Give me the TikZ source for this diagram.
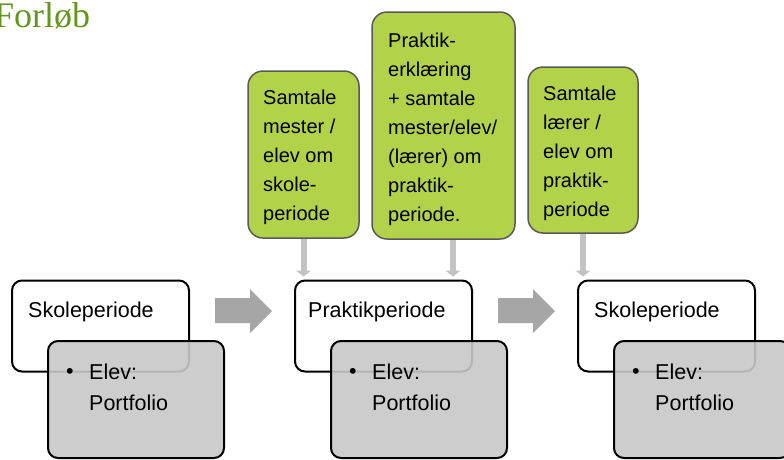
\documentclass[tikz,border=0pt]{standalone}
\usepackage{fontspec}
\setmainfont{Liberation Sans}
\newfontfamily\titlefont{Liberation Serif}
\usetikzlibrary{arrows.meta,calc}
\definecolor{titlegreen}{RGB}{100,150,30}
\definecolor{boxgreen}{RGB}{178,210,74}
\definecolor{boxgray}{RGB}{200,200,200}
\definecolor{arrowgray}{RGB}{166,166,166}
\definecolor{stubgray}{RGB}{195,195,195}
\begin{document}
\begin{tikzpicture}[x=1pt,y=-1pt,
  periodbox/.style={draw=black,line width=2pt,rounded corners=10pt,fill=white,minimum width=177pt,minimum height=91pt,inner sep=0pt},
  notebox/.style={draw=black,line width=2pt,rounded corners=10pt,fill=boxgray,fill opacity=0.9,draw opacity=1,minimum width=176pt,minimum height=117pt,inner sep=0pt},
  greenbox/.style={draw=black!65,line width=1.5pt,rounded corners=15pt,fill=boxgreen,inner sep=0pt},
  greentext/.style={anchor=north west,align=left,inner sep=0pt,font=\fontsize{20}{29}\selectfont},
  periodtext/.style={anchor=base west,inner sep=0pt,font=\fontsize{21.5}{26}\selectfont},
  notetext/.style={anchor=north west,align=left,inner sep=0pt,font=\fontsize{21.5}{31}\selectfont},
  bullettext/.style={anchor=base,inner sep=0pt,font=\fontsize{21.5}{26}\selectfont},
  stub/.style={draw=stubgray,line width=6pt,-{Triangle[width=15pt,length=6pt]},shorten >=3pt},
  bigarrow/.style={fill=arrowgray}
]
\useasboundingbox (0,0) rectangle (784,459);

% title
\node[anchor=base west,inner sep=0pt,font=\titlefont\fontsize{36}{40}\selectfont,text=titlegreen] (title) at (-6,27) {Forløb};

% green boxes
\node[greenbox,minimum width=111pt,minimum height=167pt] (g1) at (303.5,154.5) {};
\node[greenbox,minimum width=143pt,minimum height=227pt] (g2) at (443.5,125.5) {};
\node[greenbox,minimum width=110pt,minimum height=166pt] (g3) at (583,150) {};

% period boxes
\node[periodbox] (w1) at (100.5,326) {};
\node[periodbox] (w2) at (383.5,326) {};
\node[periodbox] (w3) at (666.5,326) {};

% note boxes
\node[notebox] (n1) at (136,399.5) {};
\node[notebox] (n2) at (419,399.5) {};
\node[notebox] (n3) at (702,399.5) {};

% small arrows
\coordinate (s2) at (453,0);
\draw[stub] (g1.south) -- (g1.south |- w2.north);
\draw[stub] (g2.south -| s2) -- (s2 |- w2.north);
\draw[stub] (g3.south) -- (g3.south |- w3.north);

% big arrows
\path[bigarrow] (215,298) -- (250,298) -- (250,289) -- (272,311) -- (250,333) -- (250,323) -- (215,323) -- cycle;
\path[bigarrow] (498,298) -- (533,298) -- (533,289) -- (555,311) -- (533,333) -- (533,323) -- (498,323) -- cycle;

% green texts
\node[greentext] (t1) at (263,89.6) {Samtale\\mester /\\elev om\\skole-\\periode};
\node[greentext] (t2) at (388,32.6) {Praktik-\\erklæring\\+ samtale\\mester/elev/\\(lærer) om\\praktik-\\periode.};
\node[greentext] (t3) at (543,85.6) {Samtale\\lærer /\\elev om\\praktik-\\periode};

% period texts
\node[periodtext] (p1) at (28,317.7) {Skoleperiode};
\node[periodtext] (p2) at (308,317.7) {Praktikperiode};
\node[periodtext] (p3) at (594,317.7) {Skoleperiode};

% note texts
\node[bullettext] (b1) at (70,378.7) {•};
\node[bullettext] (b2) at (353,378.7) {•};
\node[bullettext] (b3) at (636,378.7) {•};
\node[notetext] (e1) at (89,363.3) {Elev:\\Portfolio};
\node[notetext] (e2) at (372,363.3) {Elev:\\Portfolio};
\node[notetext] (e3) at (655,363.3) {Elev:\\Portfolio};
\end{tikzpicture}
\end{document}
